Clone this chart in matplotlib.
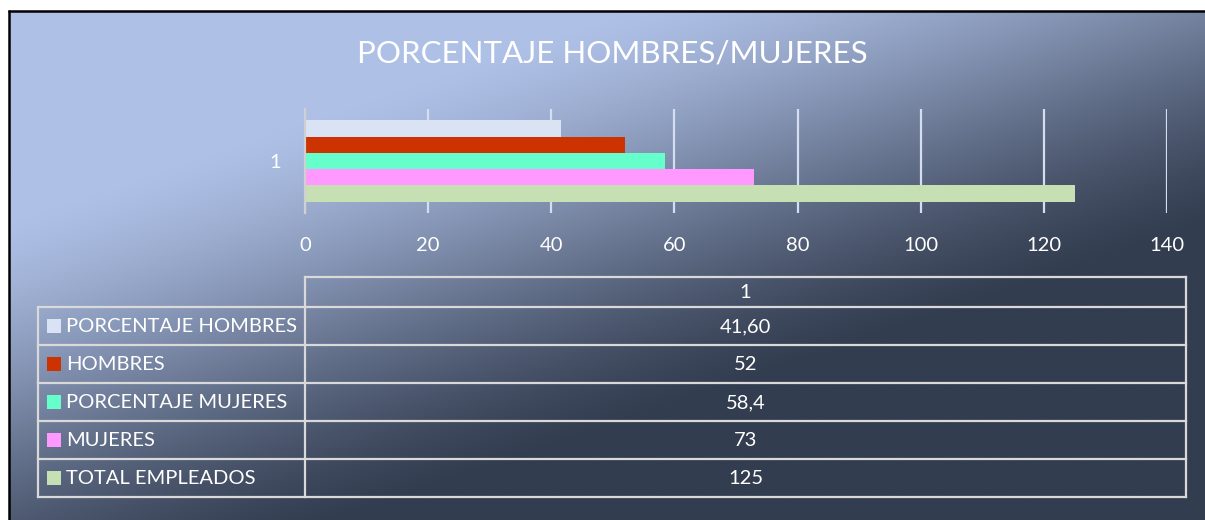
import numpy as np
import matplotlib
matplotlib.use("Agg")
import matplotlib.pyplot as plt

plt.rcParams['font.family'] = ['Lato', 'DejaVu Sans']

# ---- data ----
title = "PORCENTAJE HOMBRES/MUJERES"
category = "1"
series_names = ["PORCENTAJE HOMBRES", "HOMBRES", "PORCENTAJE MUJERES", "MUJERES", "TOTAL EMPLEADOS"]
series_values = [41.6, 52, 58.4, 73, 125]
value_labels = ["41,60", "52", "58,4", "73", "125"]
series_colors = ["#DAE3F3", "#CC3300", "#66FFCC", "#FF99FF", "#C6E0B4"]
x_ticks = [0, 20, 40, 60, 80, 100, 120, 140]

W, H = 1205, 520
fig = plt.figure(figsize=(W / 100, H / 100), dpi=100, facecolor="white")

# ---- background overlay (pixel coordinates) ----
bg = fig.add_axes([0, 0, 1, 1], zorder=0)
bg.axis("off")

x0, y0 = 10, 12
U, V = np.meshgrid(np.linspace(0, 1, 600), np.linspace(0, 1, 260))
s = 0.8 * U + V
t = np.clip((s - 0.42) / 0.8, 0, 1)
f = 0.5 * t + 0.5 * t * t * (3 - 2 * t)
light = np.array([174, 192, 230]) / 255
dark = np.array([51, 61, 80]) / 255
img = light[None, None, :] * (1 - f[..., None]) + dark[None, None, :] * f[..., None]
bg.imshow(img, extent=[x0, W, H, y0], aspect="auto", zorder=0, interpolation="bilinear")
bg.plot([x0 - 1, x0 - 1], [y0 - 2, H], color="black", lw=1.8, zorder=1, solid_capstyle="butt")
bg.plot([x0 - 2, W], [y0 - 1, y0 - 1], color="black", lw=1.8, zorder=1, solid_capstyle="butt")
bg.set_xlim(0, W)
bg.set_ylim(H, 0)

# title
bg.text(612, 53, title, color="white", fontsize=22.5, ha="center", va="center", zorder=2)

# ---- data table ----
line_c = "#D9D9D9"
tl, tm, tr = 38, 305, 1186
row_top = 277
row_lines = [306.5, 344.5, 382.5, 420.5, 458.5, 496.5]
lw = 1.6
bg.plot([tm, tr], [row_top, row_top], color=line_c, lw=lw, zorder=3)
bg.plot([tm, tm], [row_top, row_lines[-1]], color=line_c, lw=lw, zorder=3)
bg.plot([tr, tr], [row_top, row_lines[-1]], color=line_c, lw=lw, zorder=3)
bg.plot([tl, tl], [row_lines[0], row_lines[-1]], color=line_c, lw=lw, zorder=3)
for yl in row_lines:
    bg.plot([tl, tr], [yl, yl], color=line_c, lw=lw, zorder=3)
xc = (tm + tr) / 2
bg.text(xc, (row_top + row_lines[0]) / 2 + 1, category, color="white", fontsize=14.5,
        ha="center", va="center", zorder=4)
for i, (name, lab, col) in enumerate(zip(series_names, value_labels, series_colors)):
    yc = (row_lines[i] + row_lines[i + 1]) / 2
    bg.add_patch(plt.Rectangle((47, yc - 7), 14, 14, facecolor=col, edgecolor="none", zorder=4))
    bg.text(66, yc + 1, name, color="white", fontsize=14.5, ha="left", va="center", zorder=4)
    bg.text(xc, yc + 1, lab, color="white", fontsize=14.5, ha="center", va="center", zorder=4)

# ---- bar chart ----
ax_l, ax_r, ax_t, ax_b = 305, 1167, 109, 213
ax = fig.add_axes([ax_l / W, 1 - ax_b / H, (ax_r - ax_l) / W, (ax_b - ax_t) / H], zorder=5)
ax.patch.set_alpha(0)
n = len(series_values)
bh = 0.156
offsets = [(n - 1) / 2 * bh - i * bh for i in range(n)]
for i in range(n):
    ax.barh(0 + offsets[i], series_values[i], height=bh, color=series_colors[i], zorder=3)
ax.set_xlim(0, 140)
ax.set_ylim(-0.5, 0.5)
ax.set_xticks(x_ticks)
ax.set_xticklabels([str(v) for v in x_ticks])
ax.set_yticks([0])
ax.set_yticklabels([category])
ax.grid(axis="x", color="#D5DDF0", lw=1.6, zorder=1)
for sp in ["top", "right", "bottom"]:
    ax.spines[sp].set_visible(False)
ax.spines["left"].set_color("#D0D0D0")
ax.spines["left"].set_linewidth(1.6)
ax.spines["left"].set_zorder(4)
ax.tick_params(axis="both", length=0, colors="white", labelsize=14.5)
ax.tick_params(axis="x", pad=17)
ax.tick_params(axis="y", pad=17)

fig.savefig("out.png", dpi=100, facecolor="white")
